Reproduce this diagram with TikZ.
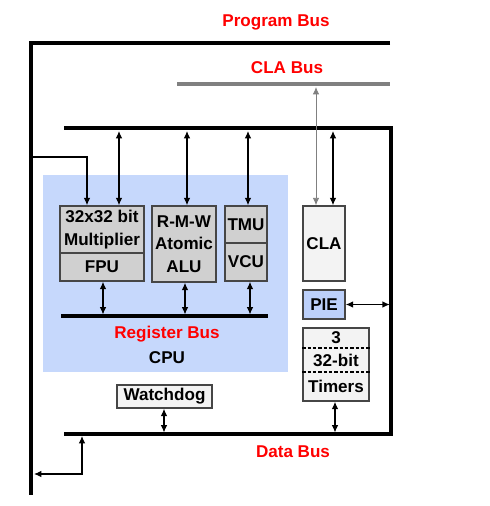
\documentclass[tikz,border=0pt]{standalone}
\usepackage{fontspec}
\setmainfont{Liberation Sans}
\usetikzlibrary{arrows.meta}

\definecolor{busred}{RGB}{255,0,0}
\definecolor{busgray}{RGB}{128,128,128}
\definecolor{cpublue}{RGB}{198,216,252}
\definecolor{pieblue}{RGB}{188,208,250}
\definecolor{unitgray}{RGB}{208,208,208}
\definecolor{unitlight}{RGB}{243,243,243}
\definecolor{edgegray}{RGB}{70,70,70}

\tikzset{every picture/.style={line width=0.75pt}}
\tikzset{
	txt/.style={font=\fontsize{12.8}{17}\selectfont\bfseries, inner sep=0pt},
	buslabel/.style={txt, text=busred},
	bus/.style={line width=2.3pt},
	clabus/.style={line width=2.3pt, draw=busgray},
	unit/.style={txt, draw=edgegray, line width=1.1pt, fill=unitgray, align=center},
	lightunit/.style={unit, fill=unitlight},
	pieunit/.style={unit, fill=pieblue},
	link/.style={{Latex[length=5.5pt,width=4.8pt]}-{Latex[length=5.5pt,width=4.8pt]}, line width=0.8pt},
	graylink/.style={link, draw=busgray, line width=0.6pt},
	tolink/.style={-{Latex[length=5.5pt,width=4.8pt]}, line width=0.8pt}
}

\begin{document}
\begin{tikzpicture}[x=0.75pt,y=0.75pt,yscale=-1,xscale=1]
	\path (0,0) rectangle (489,506);

	%Shape: Rectangle [CPU area]
	\fill [cpublue] (43,175) rectangle (288,372) ;

	%Straight Lines [program bus]
	\draw [bus] (390,43) -- (31,43) -- (31,495) ;
	%Straight Lines [CLA bus]
	\draw [clabus] (177,84) -- (390,84) ;
	%Straight Lines [inner bus and data bus]
	\draw [bus] (64,128) -- (391,128) -- (391,434) -- (64,434) ;
	%Straight Lines [register bus]
	\draw [bus] (61,316) -- (268,316) ;

	% Units
	\node [unit, minimum width=63pt, minimum height=35.25pt] (mult) at (102,229.5) {32x32 bit\\Multiplier};
	\node [unit, minimum width=63pt, minimum height=21pt] (fpu) at (102,267) {FPU};
	\node [unit, minimum width=48pt, minimum height=57pt] (alu) at (184,244) {R-M-W\\Atomic\\ALU};
	\node [unit, minimum width=31.5pt, minimum height=27.75pt] (tmu) at (246,224.5) {TMU};
	\node [unit, minimum width=31.5pt, minimum height=28.5pt] (vcu) at (246,262) {VCU};
	\node [lightunit, minimum width=31.5pt, minimum height=56.25pt] (cla) at (324,243.5) {CLA};
	\node [pieunit, minimum width=31.5pt, minimum height=21.75pt] (pie) at (324,304.5) {PIE};
	\node [lightunit, minimum width=49.5pt, minimum height=54.75pt] (timers) at (336,364.5) {};
	\node [txt] (tim1) at (336,338) {3};
	\node [txt] (tim2) at (336,360) {32-bit};
	\node [txt] (tim3) at (336,386) {Timers};
	\draw [dash pattern={on 2.5pt off 1.5pt}, line width=0.8pt] (timers.west |- 0,348) -- (timers.east |- 0,348) ;
	\draw [dash pattern={on 2.5pt off 1.5pt}, line width=0.8pt] (timers.west |- 0,372) -- (timers.east |- 0,372) ;
	\node [lightunit, minimum width=71.25pt, minimum height=17.25pt] (wdog) at (164.5,396.5) {Watchdog};

	% Bus points
	\coordinate (lb) at (31,157) ;
	\coordinate (lbx) at (87,157) ;
	\coordinate (tb1) at (119,131) ;
	\coordinate (tb2) at (187,131) ;
	\coordinate (tb3) at (248,131) ;
	\coordinate (tb4) at (333,131) ;
	\coordinate (cb) at (316,87) ;
	\coordinate (rb1) at (103,314.5) ;
	\coordinate (rb2) at (185,314.5) ;
	\coordinate (rb3) at (250,314.5) ;
	\coordinate (rt) at (389.8,304.5) ;
	\coordinate (db1) at (164,432.5) ;
	\coordinate (db2) at (335,432.5) ;
	\coordinate (db0) at (82,436) ;
	\coordinate (lbk) at (82,474) ;
	\coordinate (lbe) at (34,474) ;

	% Connectors
	\draw [tolink] (lb) -- (lbx) -- (lbx |- mult.north) ;
	\draw [link] (tb1) -- (tb1 |- mult.north) ;
	\draw [link] (tb2) -- (tb2 |- alu.north) ;
	\draw [link] (tb3) -- (tb3 |- tmu.north) ;
	\draw [link] (tb4) -- (tb4 |- cla.north) ;
	\draw [graylink] (cb) -- (cb |- cla.north) ;
	\draw [link] (rb1 |- fpu.south) -- (rb1) ;
	\draw [link] (rb2 |- alu.south) -- (rb2) ;
	\draw [link] (rb3 |- vcu.south) -- (rb3) ;
	\draw [link] (pie.east) -- (rt) ;
	\draw [link] (db1 |- wdog.south) -- (db1) ;
	\draw [link] (db2 |- timers.south) -- (db2) ;
	\draw [link] (db0) -- (lbk) -- (lbe) ;

	% Text Node
	\node [buslabel] (pblabel) at (276,22) {Program Bus};
	% Text Node
	\node [buslabel] (cblabel) at (287,68) {CLA Bus};
	% Text Node
	\node [buslabel] (rblabel) at (167,334) {Register Bus};
	% Text Node
	\node [txt] (cpulabel) at (167,358) {CPU};
	% Text Node
	\node [buslabel] (dblabel) at (293,452) {Data Bus};

\end{tikzpicture}
\end{document}
